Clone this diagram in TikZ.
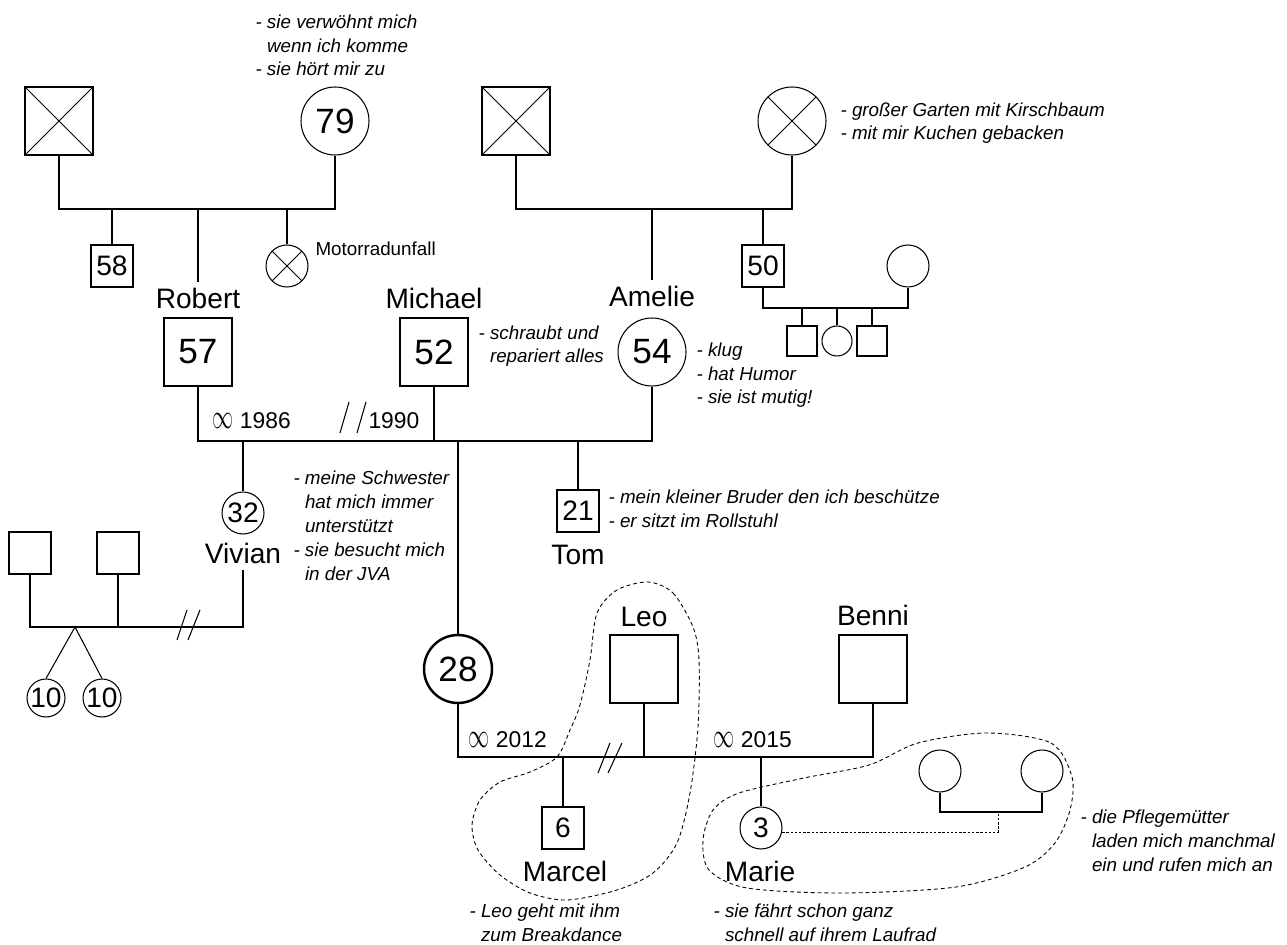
\documentclass[tikz,border=0pt]{standalone}
\usepackage{fontspec}
\setmainfont{Liberation Sans}
\usetikzlibrary{calc}
\newcommand{\ehe}{\scalebox{1}[1.65]{$\infty$}}

\begin{document}
\begin{tikzpicture}[x=0.02cm,y=-0.02cm,line width=0.6pt,
  bigm/.style={draw,rectangle,minimum size=1.36cm,inner sep=0pt,font={\fontsize{20}{24}\selectfont}},
  bigf/.style={draw,circle,minimum size=1.36cm,inner sep=0pt,font={\fontsize{20}{24}\selectfont}},
  smallm/.style={draw,rectangle,minimum size=0.84cm,inner sep=0pt,font={\fontsize{16}{19}\selectfont}},
  smallf/.style={draw,circle,minimum size=0.84cm,inner sep=0pt,font={\fontsize{16}{19}\selectfont}},
  tinym/.style={draw,rectangle,minimum size=0.6cm,inner sep=0pt},
  tinyf/.style={draw,circle,minimum size=0.6cm,inner sep=0pt},
  twin/.style={draw,circle,minimum size=0.76cm,inner sep=0pt,font={\fontsize{16}{19}\selectfont}},
  dead/.style={path picture={\draw[line width=0.5pt]
      (path picture bounding box.north west) -- (path picture bounding box.south east)
      (path picture bounding box.south west) -- (path picture bounding box.north east);}},
  pname/.style={anchor=base,font={\fontsize{16}{19}\selectfont}},
  note/.style={anchor=base west,inner sep=0pt,align=left,font={\itshape\fontsize{10.7}{13.6}\selectfont}},
  plain/.style={anchor=base west,inner sep=0pt,font={\fontsize{10.7}{13.6}\selectfont}},
  mlabel/.style={anchor=base west,inner sep=0pt,font={\fontsize{13}{15}\selectfont}},
  blob/.style={line width=0.5pt,dash pattern=on 2.2pt off 1.7pt},
  dotline/.style={line width=0.5pt,dash pattern=on 1.4pt off 1pt}]
\useasboundingbox (0,0) rectangle (1287,945);

% levels of the connecting lines
\coordinate (yR) at (0,209);
\coordinate (yS) at (0,308);
\coordinate (yM) at (0,441);
\coordinate (yV) at (0,627);
\coordinate (yL) at (0,757);
\coordinate (yP) at (0,812);

% grandparents (notes are placed at the baseline of their last line)
\node[bigm,dead] (gfR) at (59,121) {};
\node[bigf] (gmR) at (335,121) {79};
\node[bigm,dead] (gfA) at (516,121) {};
\node[bigf,dead] (gmA) at (792,121) {};
\node[note] (nGmR) at (255,76) {- sie verwöhnt mich\\\phantom{- }wenn ich komme\\- sie hört mir zu};
\node[note] (nGmA) at (840,140) {- großer Garten mit Kirschbaum\\- mit mir Kuchen gebacken};

% parents generation
\node[smallm] (uncle) at (112,266) {58};
\node[smallf,dead] (aunt) at (287,266) {};
\node[plain] (unfall) at (315,256) {Motorradunfall};
\node[bigm] (robert) at (198,352) {57};
\node[pname] (robertN) at (198,309) {Robert};
\node[bigm] (michael) at (434,352) {52};
\node[pname] (michaelN) at (434,309) {Michael};
\node[bigf] (amelie) at (652,352) {54};
\node[pname] (amelieN) at (652,307) {Amelie};
\node[note] (nMichael) at (478,363) {- schraubt und\\\phantom{- }repariert alles};
\node[note] (nAmelie) at (696,404) {- klug\\- hat Humor\\- sie ist mutig!};
\node[smallm] (onkel) at (763,266) {50};
\node[smallf] (tante) at (908,266) {};
\node[tinym] (cousinA) at (802,341) {};
\node[tinyf] (cousinB) at (837,341) {};
\node[tinym] (cousinC) at (872,341) {};

% siblings
\node[smallf] (vivian) at (243,513) {32};
\node[pname] (vivianN) at (243,563) {Vivian};
\node[note] (nVivian) at (293,580) {- meine Schwester\\\phantom{- }hat mich immer\\\phantom{- }unterstützt\\- sie besucht mich\\\phantom{- }in der JVA};
\node[smallm] (tom) at (578,511) {21};
\node[pname] (tomN) at (578,564) {Tom};
\node[note] (nTom) at (608,527) {- mein kleiner Bruder den ich beschütze\\- er sitzt im Rollstuhl};
\node[smallm] (exA) at (30,553) {};
\node[smallm] (exB) at (118,553) {};
\node[twin] (twinA) at (46,698) {10};
\node[twin] (twinB) at (102,698) {10};
\coordinate (twins) at (75,627);

% client and partners
\node[bigf,line width=1.4pt] (ich) at (458,669) {28};
\node[bigm] (leo) at (644,669) {};
\node[pname] (leoN) at (644,626) {Leo};
\node[bigm] (benni) at (873,669) {};
\node[pname] (benniN) at (873,625) {Benni};
\node[smallm] (marcel) at (563,828) {6};
\node[pname] (marcelN) at (565,881) {Marcel};
\node[smallf] (marie) at (761,828) {3};
\node[pname] (marieN) at (760,881) {Marie};
\node[smallf] (pm1) at (940,771) {};
\node[smallf] (pm2) at (1042,771) {};
\coordinate (pmMid) at (998,812);
\node[note] (nMarcel) at (469,941) {- Leo geht mit ihm\\\phantom{- }zum Breakdance};
\node[note] (nMarie) at (713,941) {- sie fährt schon ganz\\\phantom{- }schnell auf ihrem Laufrad};
\node[note] (nPm) at (1080,871) {- die Pflegemütter\\\phantom{- }laden mich manchmal\\\phantom{- }ein und rufen mich an};

% marriage labels
\node[mlabel] (m1986) at (212,429) {\ehe{} 1986};
\node[mlabel] (d1990) at (368,429) {1990};
\node[mlabel] (m2012) at (468,747) {\ehe{} 2012};
\node[mlabel] (m2015) at (713,747) {\ehe{} 2015};

% lines
\draw (gfR.south) |- (gmR.south |- yR) -- (gmR.south);
\draw (uncle.north) -- (uncle.north |- yR);
\draw (robertN.north) -- (robertN.north |- yR);
\draw (aunt.north) -- (aunt.north |- yR);
\draw (gfA.south) |- (gmA.south |- yR) -- (gmA.south);
\draw (amelieN.north) -- (amelieN.north |- yR);
\draw (onkel.north) -- (onkel.north |- yR);
\draw (onkel.south) |- (tante.south |- yS) -- (tante.south);
\draw (cousinA.north) -- (cousinA.north |- yS);
\draw (cousinB.north) -- (cousinB.north |- yS);
\draw (cousinC.north) -- (cousinC.north |- yS);
\draw (robert.south) |- (amelie.south |- yM) -- (amelie.south);
\draw (michael.south) -- (michael.south |- yM);
\draw (vivian.north) -- (vivian.north |- yM);
\draw (ich.north) -- (ich.north |- yM);
\draw (tom.north) -- (tom.north |- yM);
\draw (vivianN.south) |- (exA.south |- yV) -- (exA.south);
\draw (exB.south) -- (exB.south |- yV);
\draw (twinA.north) -- (twins) -- (twinB.north);
\draw (ich.south) |- (benni.south |- yL) -- (benni.south);
\draw (leo.south) -- (leo.south |- yL);
\draw (marcel.north) -- (marcel.north |- yL);
\draw (marie.north) -- (marie.north |- yL);
\draw (pm1.south) |- (pm2.south |- yP) -- (pm2.south);
\draw[dotline] (marie.-11) -| (pmMid);

% separations
\draw (340,433) -- (349,402) (357,433) -- (366,402);
\draw (598,773) -- (610,743) (608,773) -- (622,743);
\draw (177,640) -- (187,610) (188,640) -- (200,610);

% dashed groups
\draw[blob] plot[smooth cycle] coordinates {(648,582) (673,593) (693,627) (699,660) (698,727)
  (690,793) (677,843) (653,873) (617,890) (567,900) (530,893) (500,875) (478,850) (472,825)
  (480,800) (500,782) (530,772) (557,757) (570,730) (580,705) (590,660) (597,613) (617,590)};
\draw[blob] plot[smooth cycle] coordinates {(987,733) (1051,743) (1072,777) (1070,810)
  (1055,843) (1025,867) (956,887) (842,893) (747,888) (709,870) (703,840) (713,810)
  (739,793) (804,778) (869,765) (918,743)};
\end{tikzpicture}
\end{document}
